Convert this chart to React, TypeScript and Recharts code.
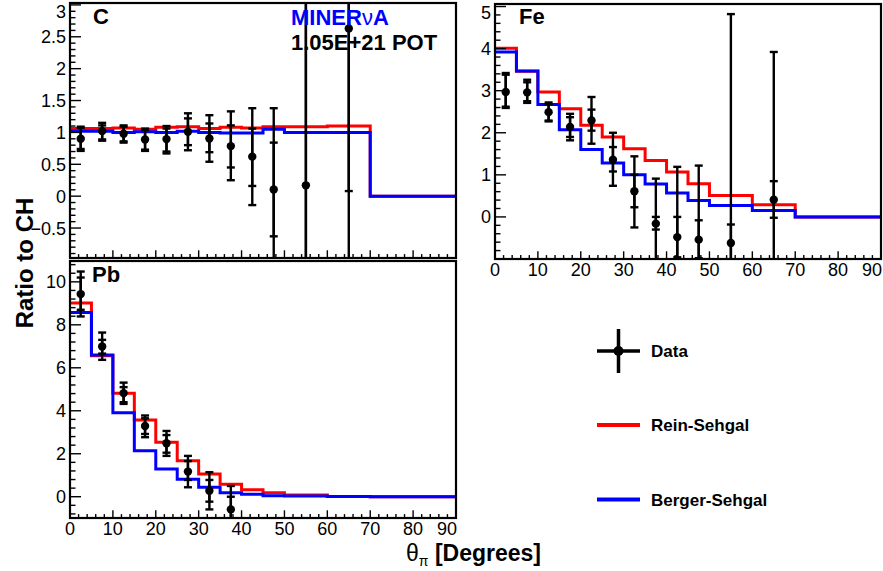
import React from 'react';
import { ComposedChart, Line, Scatter, ErrorBar, XAxis, YAxis } from 'recharts';

// ---------- data ----------
const binEdges = [0, 5, 10, 15, 20, 25, 30, 35, 40, 45, 50, 60, 70, 90];
const pointX = [2.5, 7.5, 12.5, 17.5, 22.5, 27.5, 32.5, 37.5, 42.5, 47.5, 55, 65];

const cRein = [1.06, 1.06, 1.07, 1.05, 1.08, 1.09, 1.06, 1.08, 1.07, 1.09, 1.09, 1.1, 0];
const cBerger = [1.02, 1.02, 1.0, 1.01, 1.0, 1.02, 1.0, 0.99, 0.99, 1.05, 1.0, 1.0, 0];
const cData = [0.9, 1.02, 0.98, 0.89, 0.895, 1.01, 0.905, 0.785, 0.62, 0.105, 0.17, 2.63];
const cStat = [[0.74, 1.07], [0.89, 1.11], [0.86, 1.09], [0.73, 1.04], [0.7, 1.06], [0.8, 1.22], [0.69, 1.14], [0.45, 1.11], [0.16, 1.06], [-0.63, 0.84], [-3.0, 3.4], [0.08, 5.2]];
const cTotal = [[0.71, 1.09], [0.87, 1.15], [0.84, 1.11], [0.71, 1.06], [0.67, 1.1], [0.72, 1.3], [0.54, 1.27], [0.25, 1.33], [-0.14, 1.38], [-1.3, 1.38], [-4.0, 4.3], [-1.5, 6.5]];

const feRein = [4.01, 3.46, 2.97, 2.57, 2.18, 1.9, 1.62, 1.34, 1.07, 0.79, 0.51, 0.29, 0];
const feBerger = [3.92, 3.47, 2.67, 2.07, 1.6, 1.28, 1.0, 0.78, 0.57, 0.39, 0.27, 0.15, 0];
const feData = [2.97, 2.96, 2.49, 2.14, 2.29, 1.36, 0.61, -0.16, -0.48, -0.54, -0.62, 0.41];
const feStat = [[2.62, 3.38], [2.75, 3.2], [2.29, 2.68], [1.9, 2.37], [2.05, 2.55], [1.08, 1.66], [0.23, 1.0], [-0.3, 0.0], [-0.96, 0.0], [-0.98, -0.08], [-1.06, -0.18], [-0.02, 0.85]];
const feTotal = [[2.59, 3.42], [2.71, 3.26], [2.27, 2.72], [1.82, 2.45], [1.74, 2.85], [0.74, 2.0], [-0.25, 1.44], [-1.3, 0.91], [-2.1, 1.19], [-2.3, 1.22], [-6.1, 4.82], [-3.1, 3.92]];

const pbRein = [9.01, 6.56, 4.82, 3.57, 2.53, 1.68, 1.06, 0.58, 0.33, 0.19, 0.08, 0.01, 0];
const pbBerger = [8.57, 6.6, 3.91, 2.14, 1.29, 0.81, 0.44, 0.19, 0.11, 0.05, 0.03, 0.01, 0];
const pbData = [9.43, 6.99, 4.82, 3.29, 2.49, 1.17, 0.28, -0.59];
const pbStat = [[8.7, 10.2], [6.66, 7.3], [4.4, 5.1], [2.92, 3.65], [2.05, 2.87], [0.78, 1.66], [-0.23, 0.78], [-1.2, 0.0]];
const pbTotal = [[8.39, 10.48], [6.37, 7.64], [4.32, 5.31], [2.77, 3.78], [1.9, 3.06], [0.44, 1.9], [-0.59, 1.14], [-1.7, 0.5]];

const xMajorTicks = [0, 10, 20, 30, 40, 50, 60, 70, 80, 90];
const cYMajor = [-0.5, 0, 0.5, 1, 1.5, 2, 2.5, 3];
const feYMajor = [0, 1, 2, 3, 4, 5];
const pbYMajor = [0, 2, 4, 6, 8, 10];

const legendLabels = ['Data', 'Rein-Sehgal', 'Berger-Sehgal'];
const reinColor = '#ff0000';
const bergerColor = '#0000ff';
const FONT = '"Liberation Sans", Arial, Helvetica, sans-serif';

// ---------- helpers ----------
const stepTable = (vals: number[]) =>
  binEdges.map((x, i) => ({ x, v: i < vals.length ? vals[i] : vals[vals.length - 1] }));

const pointTable = (xs: number[], ys: number[], stat: number[][], tot: number[][]) =>
  ys.map((y, i) => ({
    x: xs[i],
    y,
    stat: [y - stat[i][0], stat[i][1] - y],
    tot: [y - tot[i][0], tot[i][1] - y],
  }));

const range = (a: number, b: number, step: number) => {
  const out: number[] = [];
  const n = Math.round((b - a) / step);
  for (let i = 0; i <= n; i++) out.push(Math.round((a + i * step) * 1000) / 1000);
  return out;
};

const isIn = (arr: number[], v: number) => arr.some((m) => Math.abs(m - v) < 1e-6);
const fmt = (v: number) => (v < 0 ? '\u2212' + String(Math.abs(v)) : String(v));

const W = 883;
const H = 571;

type Rect = { left: number; right: number; top: number; bottom: number };

type PanelProps = {
  rect: Rect;
  yDomain: [number, number];
  yMajor: number[];
  yMinor: number[];
  xLabels: boolean;
  rein: number[];
  berger: number[];
  xs: number[];
  ys: number[];
  stat: number[][];
  tot: number[][];
};

function Panel(p: PanelProps) {
  const yAxisW = 10;
  const xAxisH = 10;
  const margin = {
    left: p.rect.left - yAxisW,
    top: p.rect.top,
    right: W - p.rect.right,
    bottom: H - p.rect.bottom - xAxisH,
  };
  const plainMargin = {
    left: p.rect.left,
    top: p.rect.top,
    right: W - p.rect.right,
    bottom: H - p.rect.bottom,
  };
  const xTicks = range(0, 90, 2);
  const reinData = stepTable(p.rein);
  const bergerData = stepTable(p.berger);
  const pts = pointTable(p.xs, p.ys, p.stat, p.tot);

  const yTick = (t: any) => {
    const v = t.payload.value;
    const major = isIn(p.yMajor, v);
    const len = major ? 11 : 5.5;
    const ly = Math.max(t.y, p.rect.top + 9);
    return (
      <g>
        <line x1={t.x} x2={t.x + len} y1={t.y} y2={t.y} stroke="#000" strokeWidth={1.4} />
        {major && (
          <text x={t.x - 4} y={ly} dy="0.36em" textAnchor="end" fontSize={18} fontFamily={FONT} fill="#000">
            {fmt(v)}
          </text>
        )}
      </g>
    );
  };

  const xTick = (t: any) => {
    const v = t.payload.value;
    const major = isIn(xMajorTicks, v);
    const len = major ? 7.7 : 3.9;
    const last = v === 90;
    return (
      <g>
        <line x1={t.x} x2={t.x} y1={t.y} y2={t.y - len} stroke="#000" strokeWidth={1.4} />
        {major && p.xLabels && (
          <text x={last ? t.x + 1 : t.x} y={t.y + 17} textAnchor={last ? 'end' : 'middle'} fontSize={18} fontFamily={FONT} fill="#000">
            {String(v)}
          </text>
        )}
      </g>
    );
  };

  const clip = `inset(${p.rect.top}px ${W - p.rect.right}px ${H - p.rect.bottom}px ${p.rect.left}px)`;

  return (
    <>
      <div style={{ position: 'absolute', left: 0, top: 0 }}>
        <ComposedChart width={W} height={H} margin={margin}>
          <XAxis
            type="number"
            dataKey="x"
            domain={[0, 90]}
            allowDataOverflow
            ticks={xTicks}
            interval={0}
            height={xAxisH}
            tickSize={0}
            tickMargin={0}
            axisLine={false}
            tickLine={false}
            tick={xTick}
          />
          <YAxis
            type="number"
            domain={p.yDomain}
            allowDataOverflow
            ticks={p.yMinor}
            interval={0}
            width={yAxisW}
            tickSize={0}
            tickMargin={0}
            axisLine={false}
            tickLine={false}
            tick={yTick}
          />
          <Line data={reinData} dataKey="v" type="stepAfter" stroke={reinColor} strokeWidth={3} dot={false} activeDot={false} isAnimationActive={false} />
          <Line data={bergerData} dataKey="v" type="stepAfter" stroke={bergerColor} strokeWidth={3} dot={false} activeDot={false} isAnimationActive={false} />
        </ComposedChart>
      </div>
      <div style={{ position: 'absolute', left: 0, top: 0, clipPath: clip }}>
        <ComposedChart width={W} height={H} margin={plainMargin}>
          <XAxis type="number" dataKey="x" domain={[0, 90]} allowDataOverflow hide />
          <YAxis type="number" domain={p.yDomain} allowDataOverflow hide />
          <Scatter
            data={pts}
            dataKey="y"
            fill="#000"
            isAnimationActive={false}
            shape={(s: any) => <circle cx={s.cx} cy={s.cy} r={4.2} fill="#000" />}
          >
            <ErrorBar dataKey="tot" direction="y" width={4} stroke="#000" strokeWidth={2.4} />
            <ErrorBar dataKey="stat" direction="y" width={4} stroke="#000" strokeWidth={2.4} />
          </Scatter>
        </ComposedChart>
      </div>
    </>
  );
}

const cRect: Rect = { left: 70, right: 456, top: 3, bottom: 258 };
const feRect: Rect = { left: 495, right: 881, top: 4, bottom: 259 };
const pbRect: Rect = { left: 70, right: 456, top: 261, bottom: 518 };

export default function App() {
  const frame = (r: Rect) => (
    <rect x={r.left} y={r.top} width={r.right - r.left} height={r.bottom - r.top} fill="none" stroke="#000" strokeWidth={2.2} />
  );
  return (
    <div style={{ position: 'absolute', left: 0, top: 0, width: W, height: H, background: '#fff', overflow: 'hidden' }}>
      <Panel
        rect={cRect}
        yDomain={[-0.97, 3.03]}
        yMajor={cYMajor}
        yMinor={range(-0.9, 3.0, 0.1)}
        xLabels={false}
        rein={cRein}
        berger={cBerger}
        xs={pointX}
        ys={cData}
        stat={cStat}
        tot={cTotal}
      />
      <Panel
        rect={feRect}
        yDomain={[-1.0, 5.06]}
        yMajor={feYMajor}
        yMinor={range(-0.8, 5.0, 0.2)}
        xLabels={true}
        rein={feRein}
        berger={feBerger}
        xs={pointX}
        ys={feData}
        stat={feStat}
        tot={feTotal}
      />
      <Panel
        rect={pbRect}
        yDomain={[-0.99, 10.97]}
        yMajor={pbYMajor}
        yMinor={range(-0.8, 10.8, 0.4)}
        xLabels={true}
        rein={pbRein}
        berger={pbBerger}
        xs={pointX.slice(0, pbData.length)}
        ys={pbData}
        stat={pbStat}
        tot={pbTotal}
      />
      <svg width={W} height={H} style={{ position: 'absolute', left: 0, top: 0 }} fontFamily={FONT}>
        {frame(cRect)}
        {frame(feRect)}
        {frame(pbRect)}
        <text x={93} y={24} fontSize={22} fontWeight="bold">C</text>
        <text x={519} y={24} fontSize={22} fontWeight="bold">Fe</text>
        <text x={92} y={282} fontSize={22} fontWeight="bold">Pb</text>
        <text x={291} y={25} fontSize={22} fontWeight="bold" fill="#0000ff">
          MINER<tspan fontWeight="normal">ν</tspan>A
        </text>
        <text x={291} y={50} fontSize={22} fontWeight="bold">1.05E+21 POT</text>
        <text transform="translate(33,263) rotate(-90)" textAnchor="middle" fontSize={24} fontWeight="bold">Ratio to CH</text>
        <text x={541} y={561} textAnchor="end" fontSize={23} fontWeight="bold">
          <tspan fontWeight="normal">θ</tspan>
          <tspan fontWeight="normal" fontSize={14} dy={5}>π</tspan>
          <tspan dy={-5}> [Degrees]</tspan>
        </text>
        {/* legend */}
        <line x1={597} x2={640} y1={351} y2={351} stroke="#000" strokeWidth={3.5} />
        <line x1={618.5} x2={618.5} y1={329} y2={373} stroke="#000" strokeWidth={3.5} />
        <circle cx={618.5} cy={351} r={5} fill="#000" />
        <line x1={597} x2={640} y1={425} y2={425} stroke={reinColor} strokeWidth={4} />
        <line x1={597} x2={640} y1={499.5} y2={499.5} stroke={bergerColor} strokeWidth={4} />
        <text x={651} y={351} dy="0.36em" fontSize={17} fontWeight="bold">{legendLabels[0]}</text>
        <text x={651} y={425} dy="0.36em" fontSize={17} fontWeight="bold">{legendLabels[1]}</text>
        <text x={651} y={499.5} dy="0.36em" fontSize={17} fontWeight="bold">{legendLabels[2]}</text>
      </svg>
    </div>
  );
}
